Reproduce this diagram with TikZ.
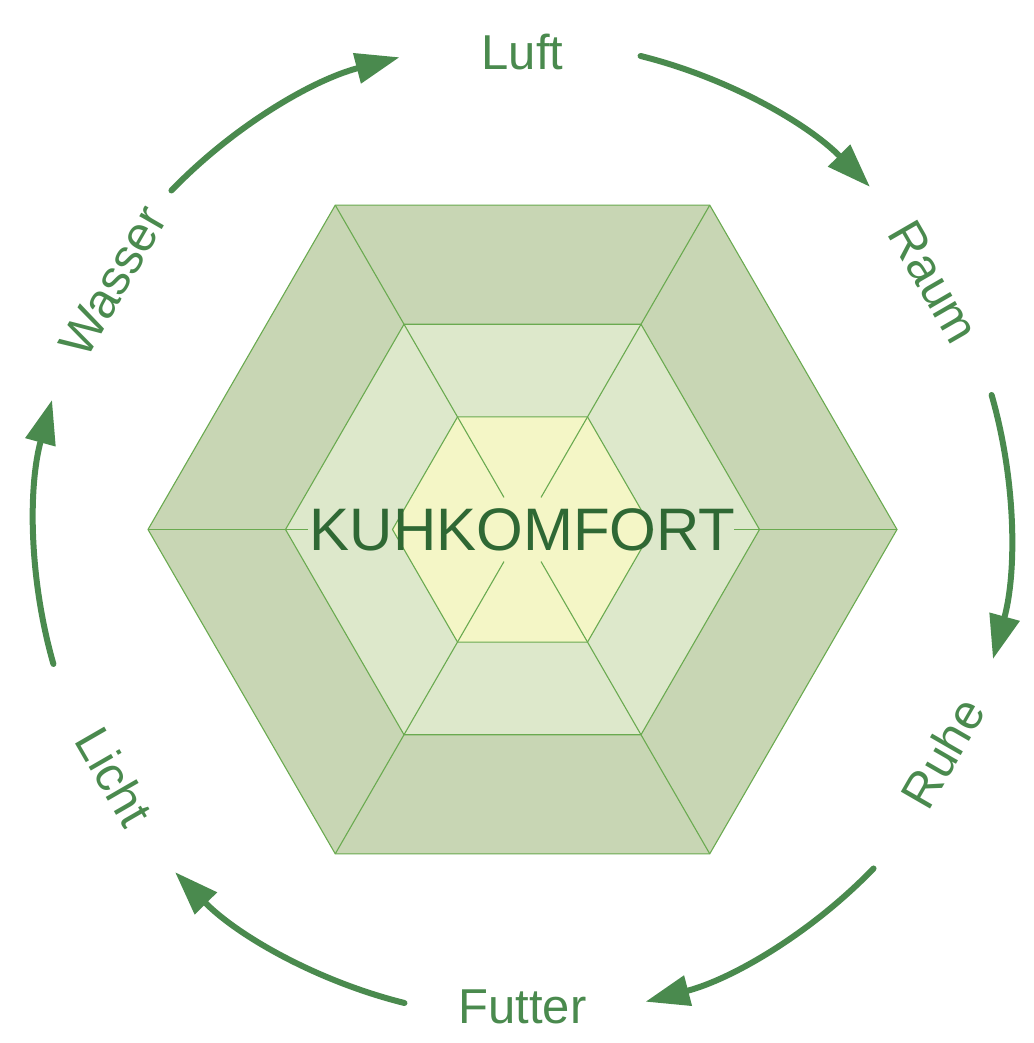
\documentclass[tikz,border=0pt]{standalone}
\usepackage{fontspec}
\setmainfont{Liberation Sans}
\usetikzlibrary{arrows.meta,calc}
\definecolor{arrowgreen}{RGB}{74,138,78}
\definecolor{darktext}{RGB}{47,104,52}
\definecolor{outerfill}{RGB}{200,214,180}
\definecolor{midfill}{RGB}{221,232,203}
\definecolor{innerfill}{RGB}{244,246,198}
\definecolor{hexstroke}{RGB}{106,170,80}
\begin{document}
\begin{tikzpicture}[x=1pt,y=1pt,
  hexline/.style={draw=hexstroke, line width=1.1pt, line join=miter},
  cyc/.style={draw=arrowgreen, line width=6pt, line cap=round, -{Triangle[length=44pt,width=30pt]}},
  lbl/.style={text=arrowgreen, font=\fontsize{49}{55}\selectfont, inner sep=0pt},
  ]
\useasboundingbox (0,0) rectangle (1033,1043);
\coordinate (C) at (522.5,513.5);
\foreach \i in {0,...,5}{
  \coordinate (o\i) at ($(C)+(\i*60:374.5)$);
  \coordinate (m\i) at ($(C)+(\i*60:237)$);
  \coordinate (n\i) at ($(C)+(\i*60:130)$);
  \coordinate (s\i) at ($(C)+(\i*60:37)$);
}
% rings
\draw[hexline, fill=outerfill] (o0)--(o1)--(o2)--(o3)--(o4)--(o5)--cycle;
\draw[hexline, fill=midfill] (m0)--(m1)--(m2)--(m3)--(m4)--(m5)--cycle;
\draw[hexline, fill=innerfill] (n0)--(n1)--(n2)--(n3)--(n4)--(n5)--cycle;
% outer dividers
\foreach \i in {0,...,5}{ \draw[hexline] (o\i)--(m\i); }
% middle dividers
\foreach \i in {1,2,4,5}{ \draw[hexline] (m\i)--(n\i); }
\coordinate (ml) at ($(C)+(180:214.5)$);
\coordinate (mr) at ($(C)+(0:211)$);
\draw[hexline] (m3)--(ml);
\draw[hexline] (m0)--(mr);
% inner spokes
\foreach \i in {1,2,4,5}{ \draw[hexline] (n\i)--(s\i); }
% centre text
\node[text=darktext, font=\fontsize{60}{66}\selectfont, inner sep=0pt] (kk) at ($(C)+(0,-0.5)$) {KUHKOMFORT};
% labels
\node[lbl] (luft) at ($(C)+(90:477)$) {Luft};
\node[lbl, rotate=-60] (raum) at ($(C)+(31:480)$) {Raum};
\node[lbl, rotate=60] (ruhe) at ($(C)+(-28:476)$) {Ruhe};
\node[lbl] (futter) at ($(C)+(-90:477)$) {Futter};
\node[lbl, rotate=-60] (licht) at ($(C)+(-148.8:477)$) {Licht};
\node[lbl, rotate=60] (wasser) at ($(C)+(148.8:479)$) {Wasser};
% cycle arrows
\foreach \a/\nm in {90/a,30/b,-30/c,-90/d,-150/e,150/f}{
  \coordinate (st\nm) at ($(C)+(\a-14:488)$);
  \draw[cyc] (st\nm) arc[start angle=\a-14, end angle=\a-45.4, radius=488];
}
\end{tikzpicture}
\end{document}
